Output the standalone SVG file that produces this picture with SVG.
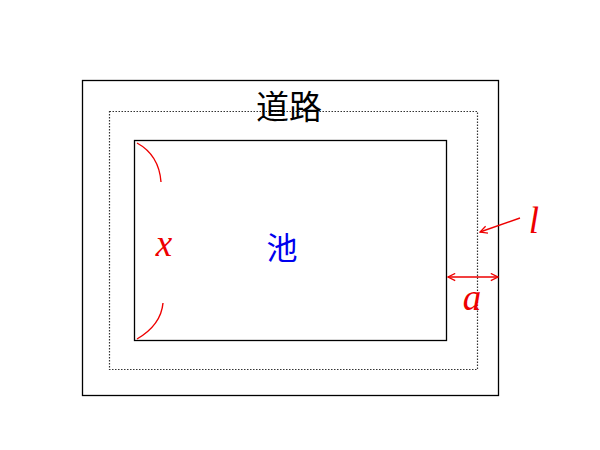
<svg xmlns="http://www.w3.org/2000/svg" width="600" height="450" viewBox="0 0 600 450">
<style>
.box{fill:none;stroke:#000;stroke-width:1.3}
.dot{fill:none;stroke:#333;stroke-width:1.2;stroke-dasharray:1.5 1.5}
.red{fill:none;stroke:#e00;stroke-width:1.4}
.lab{font-family:"Liberation Serif",serif;font-style:italic;fill:#e00;font-size:37px}
.cjk{font-family:"Noto Sans CJK SC","Noto Sans CJK JP",sans-serif}
</style>
<defs>
<marker id="ah" viewBox="0 0 10 10" refX="9" refY="5" markerWidth="9" markerHeight="9" markerUnits="userSpaceOnUse" orient="auto-start-reverse">
<path d="M1,1 L9,5 L1,9" fill="none" stroke="#e00" stroke-width="1.4"/>
</marker>
</defs>
<rect width="600" height="450" fill="#fff"/>
<g id="road">
<rect class="box" x="82.5" y="80.5" width="416" height="315"/>
<rect class="dot" x="109.5" y="111.5" width="368" height="258"/>
<text class="cjk" x="289" y="119" text-anchor="middle" fill="#000" font-size="33">道路</text>
</g>
<g id="pond">
<rect class="box" x="134.5" y="140.5" width="312" height="200"/>
<text class="cjk" x="282" y="259" text-anchor="middle" fill="#00e" font-size="31">池</text>
</g>
<g id="connectors">
<path class="red" d="M137,143 Q159,155 161,182"/>
<path class="red" d="M137,339 Q161,325 163,303"/>
<line class="red" x1="520" y1="218" x2="480" y2="232" marker-end="url(#ah)"/>
<line class="red" x1="448" y1="277" x2="498" y2="277" marker-start="url(#ah)" marker-end="url(#ah)"/>
</g>
<g id="labels">
<text class="lab" x="164" y="256" text-anchor="middle">x</text>
<text class="lab" x="534" y="233" text-anchor="middle">l</text>
<text class="lab" x="472" y="310" text-anchor="middle">a</text>
</g>
</svg>
